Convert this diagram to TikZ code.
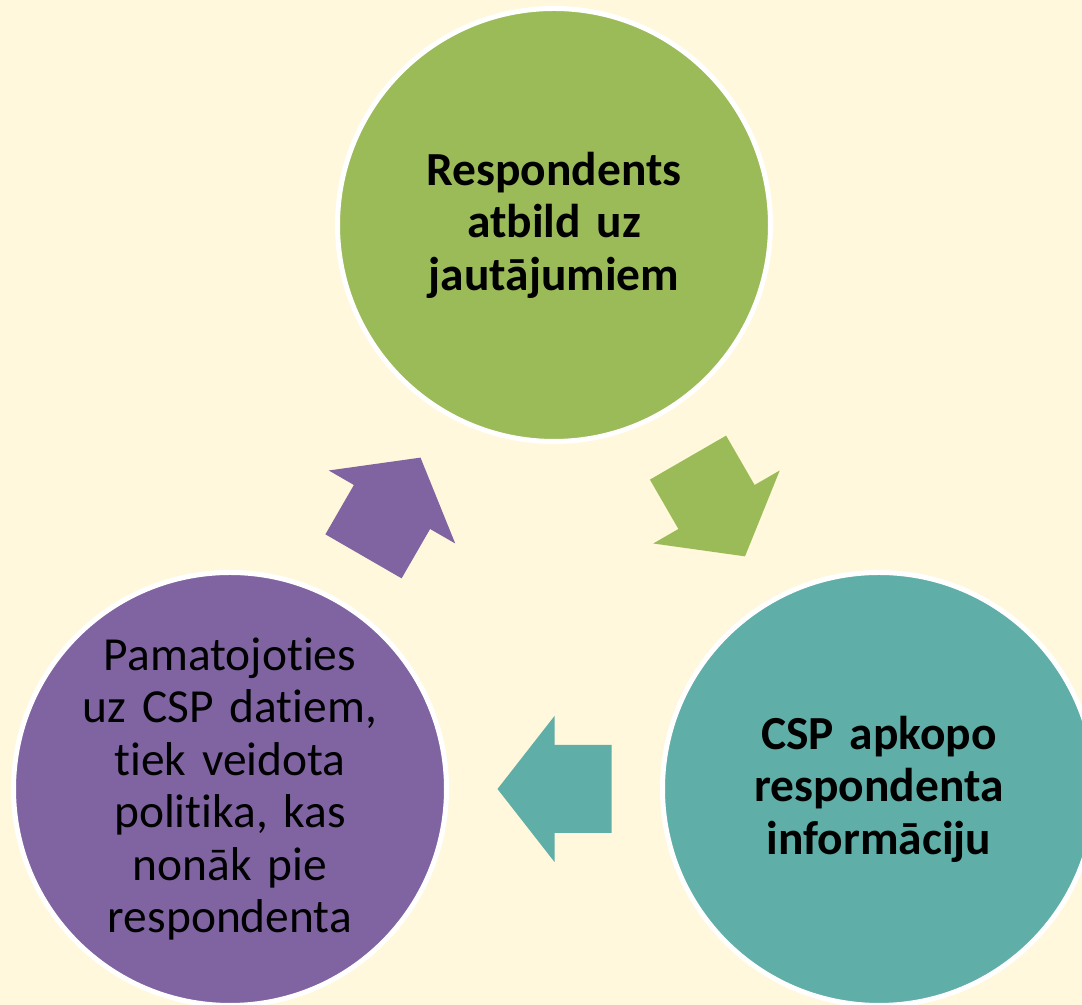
\documentclass[tikz,border=0pt]{standalone}
\usepackage{fontspec}
\setmainfont{Carlito}[Ligatures=NoCommon]
\usetikzlibrary{calc}

\definecolor{cream}{HTML}{FFF8DC}
\definecolor{leaf}{HTML}{9BBB59}
\definecolor{sea}{HTML}{5FAEA7}
\definecolor{plum}{HTML}{8064A2}
\newcommand\cyclefont{\fontsize{27}{29.9}\selectfont}

\tikzset{
  blockarrow/.pic={
    \fill[#1] (-1.14,-0.88) -- (0,-0.88) -- (0,-1.46) -- (1.14,0)
      -- (0,1.46) -- (0,0.88) -- (-1.14,0.88) -- cycle;
  }
}

\begin{document}
\begin{tikzpicture}
  [every node/.style={circle,draw=white,line width=0.1cm,minimum size=8.66cm,
     inner sep=0pt,text width=6cm,align=center,font=\cyclefont}]
  \useasboundingbox[fill=cream] (0,0) rectangle (21.64,20.1);

  \node[fill=leaf,font=\cyclefont\bfseries] (resp) at (11.08,15.6)
    {Respondents\\ atbild uz\\ jautājumiem};
  \node[fill=sea,font=\cyclefont\bfseries] (csp) at (17.58,4.32)
    {CSP apkopo\\ respondenta\\ informāciju};
  \node[fill=plum] (policy) at (4.6,4.32)
    {Pamatojoties\\ uz CSP datiem,\\ tiek veidota\\ politika, kas\\ nonāk pie\\ respondenta};

  % block arrows between the circles
  \pic[rotate=-60] at ($(resp)!.5!(csp)$) {blockarrow=leaf};
  \pic[rotate=180] at ($(csp)!.5!(policy)$) {blockarrow=sea};
  \pic[rotate=60] at ($(policy)!.5!(resp)$) {blockarrow=plum};

\end{tikzpicture}
\end{document}
